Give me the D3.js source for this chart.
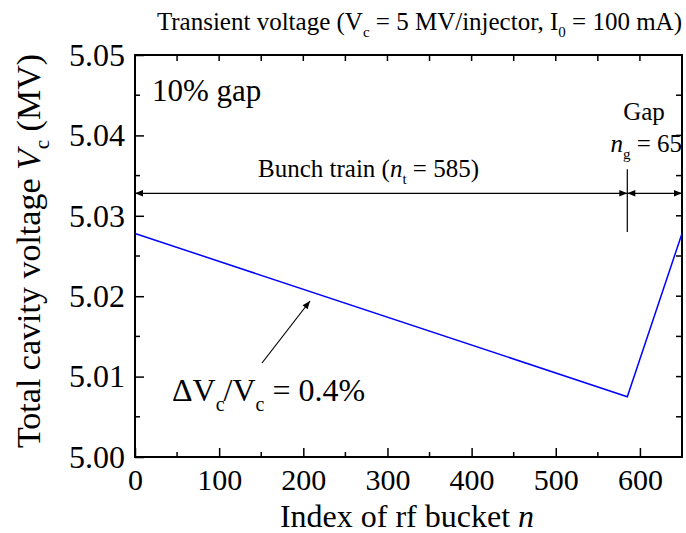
<!DOCTYPE html>
<html><head><meta charset="utf-8">
<script src="https://cdn.jsdelivr.net/npm/d3@7"></script>
<style>
body{margin:0;background:#fff;}
</style></head>
<body><svg id="c" width="686" height="533" font-family="'Liberation Serif', 'Times New Roman', serif"></svg>
<script>
const bucketIndex = [0, 585, 650];
const voltage = [5.0278, 5.0075, 5.0278];
const xTicks = [0, 100, 200, 300, 400, 500, 600];
const yTicks = [5.00, 5.01, 5.02, 5.03, 5.04, 5.05];
const trainLength = 585, gapLength = 65, arrowLevel = 5.0328;
const FONT = "Liberation Serif";

const svg = d3.select("#c");
const L = 135, R = 682, T = 55, B = 457;
const x = d3.scaleLinear().domain([0, 650]).range([L, R]);
const y = d3.scaleLinear().domain([5.00, 5.05]).range([B, T]);

const defs = svg.append("defs");
defs.append("marker").attr("id","ah").attr("viewBox","0 0 10 10").attr("refX",10).attr("refY",5)
  .attr("markerWidth",10).attr("markerHeight",8).attr("markerUnits","userSpaceOnUse").attr("orient","auto-start-reverse")
  .append("path").attr("d","M0,1 L10,5 L0,9 Z").attr("fill","#000");

const xMinor = d3.range(0, 651, 50);
const yMinor = d3.range(0, 11).map(i => 5.00 + i*0.005);

const g = svg.append("g");
g.append("g").attr("transform",`translate(0,${B})`)
  .call(d3.axisBottom(x).tickValues(xTicks).tickSizeInner(-9).tickSizeOuter(0).tickPadding(12).tickFormat(d3.format("d")))
  .call(s => { s.attr("font-family",FONT).attr("font-size",30); s.select(".domain").remove(); s.selectAll("text").attr("font-size",30).attr("font-family",FONT); s.selectAll("line").attr("stroke-width",1.5); });
g.append("g").selectAll("line").data(xMinor.filter(v=>v%100!==0)).join("line")
  .attr("x1",d=>x(d)).attr("x2",d=>x(d)).attr("y1",B).attr("y2",B-5).attr("stroke","#000").attr("stroke-width",1.5);
g.append("g").selectAll("line").data(xMinor).join("line")
  .attr("x1",d=>x(d)).attr("x2",d=>x(d)).attr("y1",T).attr("y2",T+6).attr("stroke","#000").attr("stroke-width",1.5);
g.append("g").attr("transform",`translate(${L},0)`)
  .call(d3.axisLeft(y).tickValues(yTicks).tickSizeInner(-9).tickSizeOuter(0).tickPadding(10).tickFormat(d3.format(".2f")))
  .call(s => { s.attr("font-family",FONT).attr("font-size",32); s.select(".domain").remove(); s.selectAll("text").attr("font-size",32).attr("font-family",FONT); s.selectAll("line").attr("stroke-width",1.5); });
g.append("g").selectAll("line").data(yMinor.filter((v,i)=>i%2===1)).join("line")
  .attr("x1",L).attr("x2",L+5).attr("y1",d=>y(d)).attr("y2",d=>y(d)).attr("stroke","#000").attr("stroke-width",1.5);
g.append("g").selectAll("line").data(yMinor).join("line")
  .attr("x1",R).attr("x2",R-6).attr("y1",d=>y(d)).attr("y2",d=>y(d)).attr("stroke","#000").attr("stroke-width",1.5);
svg.append("rect").attr("x",L).attr("y",T).attr("width",R-L).attr("height",B-T)
  .attr("fill","none").attr("stroke","#000").attr("stroke-width",2);

svg.append("path").datum(d3.zip(bucketIndex, voltage))
  .attr("d", d3.line().x(d=>x(d[0])).y(d=>y(d[1])))
  .attr("fill","none").attr("stroke","#0000ff").attr("stroke-width",1.5);

svg.append("line").attr("x1",x(0)).attr("x2",x(trainLength)).attr("y1",y(arrowLevel)).attr("y2",y(arrowLevel))
  .attr("stroke","#000").attr("stroke-width",1.2).attr("marker-start","url(#ah)").attr("marker-end","url(#ah)");
svg.append("line").attr("x1",x(trainLength)).attr("x2",x(trainLength+gapLength)).attr("y1",y(arrowLevel)).attr("y2",y(arrowLevel))
  .attr("stroke","#000").attr("stroke-width",1.2).attr("marker-start","url(#ah)").attr("marker-end","url(#ah)");
svg.append("line").attr("x1",x(trainLength)).attr("x2",x(trainLength)).attr("y1",y(5.0358)).attr("y2",y(5.0280))
  .attr("stroke","#000").attr("stroke-width",1.2);

const t1 = svg.append("text").attr("x",258).attr("y",177).attr("font-size",25);
t1.append("tspan").text("Bunch train (");
t1.append("tspan").attr("font-style","italic").text("n");
t1.append("tspan").attr("font-size",15).attr("dy",7).text("t");
t1.append("tspan").attr("dy",-7).text(" = 585)");

svg.append("text").attr("x",644).attr("y",120).attr("font-size",25).attr("text-anchor","middle").text("Gap");
const t2 = svg.append("text").attr("x",682).attr("y",152).attr("font-size",25).attr("text-anchor","end");
t2.append("tspan").attr("font-style","italic").text("n");
t2.append("tspan").attr("font-size",15).attr("dy",7).text("g");
t2.append("tspan").attr("dy",-7).text(" = 65");

svg.append("text").attr("x",152).attr("y",101).attr("font-size",31).text("10% gap");

svg.append("line").attr("x1",262).attr("y1",363).attr("x2",310).attr("y2",301)
  .attr("stroke","#000").attr("stroke-width",1.2).attr("marker-end","url(#ah)");
const t3 = svg.append("text").attr("x",172).attr("y",401).attr("font-size",32);
t3.append("tspan").text("\u0394V");
t3.append("tspan").attr("font-size",20).attr("dy",10).text("c");
t3.append("tspan").attr("dy",-10).attr("dx",-1).text("/V");
t3.append("tspan").attr("font-size",20).attr("dy",10).text("c");
t3.append("tspan").attr("dy",-10).text(" = 0.4%");

const tt = svg.append("text").attr("x",682).attr("y",30).attr("font-size",25).attr("text-anchor","end");
tt.append("tspan").text("Transient voltage (V");
tt.append("tspan").attr("font-size",15).attr("dy",7).text("c");
tt.append("tspan").attr("dy",-7).text(" = 5 MV/injector, I");
tt.append("tspan").attr("font-size",15).attr("dy",7).text("0");
tt.append("tspan").attr("dy",-7).text(" = 100 mA)");

const xt = svg.append("text").attr("x",407).attr("y",527).attr("font-size",32).attr("text-anchor","middle");
xt.append("tspan").text("Index of rf bucket   ");
xt.append("tspan").attr("font-style","italic").text("n");

const yt = svg.append("text").attr("transform","translate(40,251) rotate(-90)").attr("font-size",34).attr("text-anchor","middle");
yt.append("tspan").text("Total cavity voltage  ");
yt.append("tspan").attr("font-style","italic").text("V");
yt.append("tspan").attr("font-size",21).attr("dy",9).text("c");
yt.append("tspan").attr("dy",-9).text(" (MV)");
</script></body></html>
